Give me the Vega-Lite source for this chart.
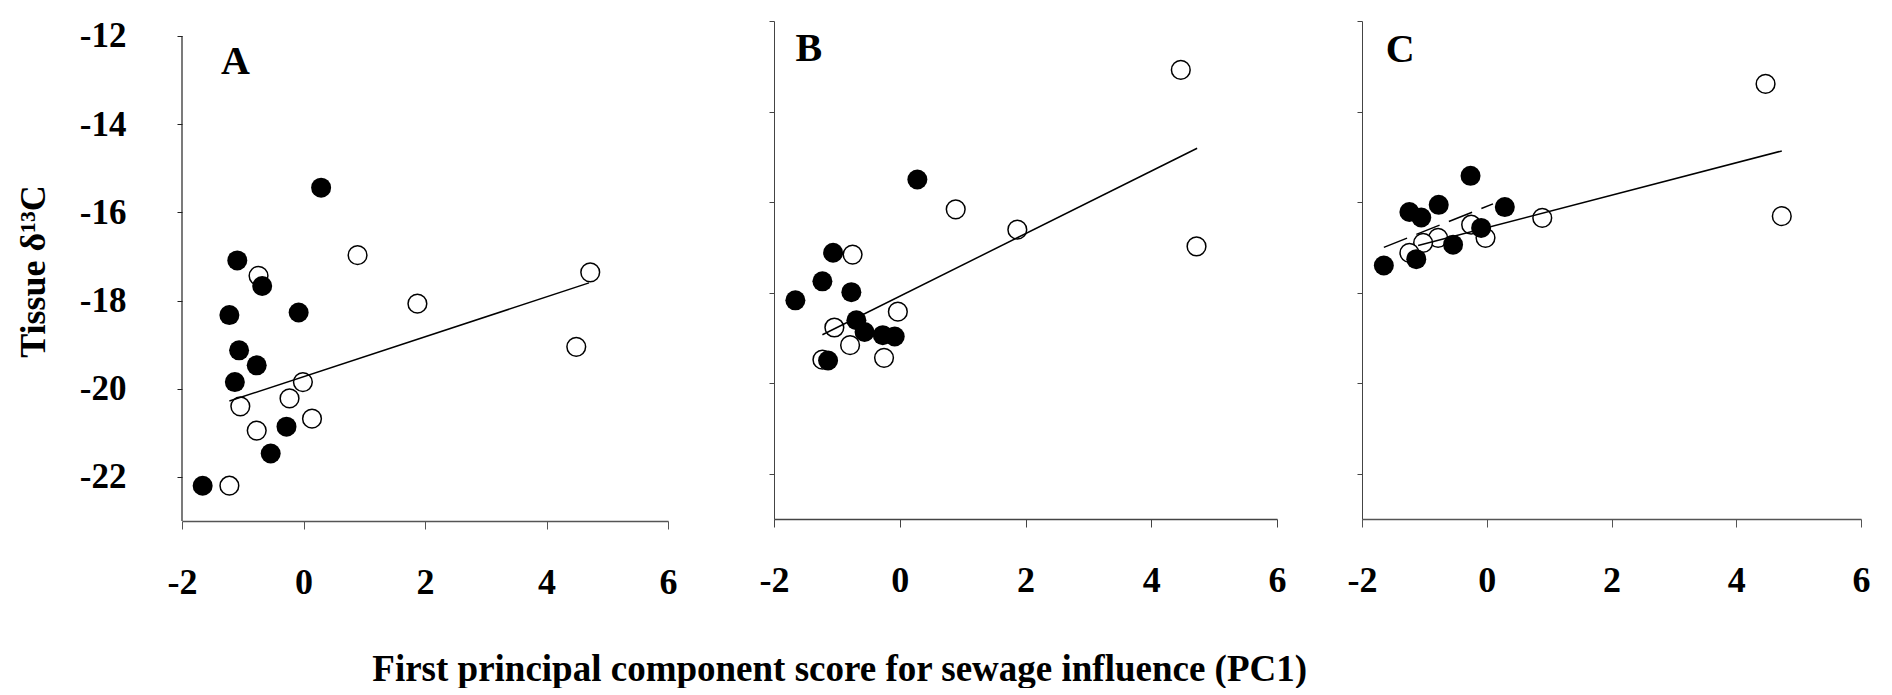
{
  "$schema": "https://vega.github.io/schema/vega-lite/v6.json",
  "background": "white",
  "padding": {"left": 15, "top": 18, "right": 5, "bottom": 0},
  "config": {
    "font": "Liberation Serif",
    "view": {"stroke": null},
    "axis": {
      "grid": false,
      "labelFont": "Liberation Serif",
      "labelFontWeight": "bold",
      "labelColor": "black",
      "labelFontSize": 35,
      "labelExpr": "replace(datum.label, '−', '-')",
      "titleFont": "Liberation Serif",
      "titleFontWeight": "bold",
      "titleColor": "black"
    }
  },
  "datasets": {
    "points": [
      {"panel": "A", "type": "filled", "x": 0.29, "y": -15.44},
      {"panel": "A", "type": "filled", "x": -1.09, "y": -17.09},
      {"panel": "A", "type": "filled", "x": -0.68, "y": -17.67},
      {"panel": "A", "type": "filled", "x": -1.22, "y": -18.33},
      {"panel": "A", "type": "filled", "x": -0.08, "y": -18.27},
      {"panel": "A", "type": "filled", "x": -1.06, "y": -19.13},
      {"panel": "A", "type": "filled", "x": -0.77, "y": -19.47},
      {"panel": "A", "type": "filled", "x": -1.13, "y": -19.85},
      {"panel": "A", "type": "filled", "x": -0.28, "y": -20.86},
      {"panel": "A", "type": "filled", "x": -0.54, "y": -21.47},
      {"panel": "A", "type": "filled", "x": -1.66, "y": -22.2},
      {"panel": "A", "type": "open", "x": 0.89, "y": -16.97},
      {"panel": "A", "type": "open", "x": -0.74, "y": -17.44},
      {"panel": "A", "type": "open", "x": 4.72, "y": -17.36},
      {"panel": "A", "type": "open", "x": 1.875, "y": -18.07},
      {"panel": "A", "type": "open", "x": 4.49, "y": -19.05},
      {"panel": "A", "type": "open", "x": -0.01, "y": -19.85},
      {"panel": "A", "type": "open", "x": -0.23, "y": -20.22},
      {"panel": "A", "type": "open", "x": -1.04, "y": -20.4},
      {"panel": "A", "type": "open", "x": 0.14, "y": -20.68},
      {"panel": "A", "type": "open", "x": -0.77, "y": -20.95},
      {"panel": "A", "type": "open", "x": -1.22, "y": -22.2},
      {"panel": "B", "type": "filled", "x": 0.28, "y": -15.5},
      {"panel": "B", "type": "filled", "x": -1.06, "y": -17.12},
      {"panel": "B", "type": "filled", "x": -1.23, "y": -17.75},
      {"panel": "B", "type": "filled", "x": -0.77, "y": -17.99},
      {"panel": "B", "type": "filled", "x": -1.66, "y": -18.17},
      {"panel": "B", "type": "filled", "x": -0.69, "y": -18.61},
      {"panel": "B", "type": "filled", "x": -0.56, "y": -18.87},
      {"panel": "B", "type": "filled", "x": -0.27, "y": -18.94},
      {"panel": "B", "type": "filled", "x": -0.08, "y": -18.97},
      {"panel": "B", "type": "filled", "x": -1.14, "y": -19.5},
      {"panel": "B", "type": "open", "x": 4.47, "y": -13.08},
      {"panel": "B", "type": "open", "x": 0.89, "y": -16.16},
      {"panel": "B", "type": "open", "x": 1.87, "y": -16.61},
      {"panel": "B", "type": "open", "x": 4.72, "y": -16.98},
      {"panel": "B", "type": "open", "x": -0.75, "y": -17.16},
      {"panel": "B", "type": "open", "x": -0.03, "y": -18.42},
      {"panel": "B", "type": "open", "x": -1.04, "y": -18.77},
      {"panel": "B", "type": "open", "x": -0.79, "y": -19.16},
      {"panel": "B", "type": "open", "x": -1.23, "y": -19.48},
      {"panel": "B", "type": "open", "x": -0.25, "y": -19.44},
      {"panel": "C", "type": "filled", "x": -0.26, "y": -15.42},
      {"panel": "C", "type": "filled", "x": -0.77, "y": -16.06},
      {"panel": "C", "type": "filled", "x": 0.29, "y": -16.11},
      {"panel": "C", "type": "filled", "x": -1.24, "y": -16.22},
      {"panel": "C", "type": "filled", "x": -1.05, "y": -16.34},
      {"panel": "C", "type": "filled", "x": -0.09, "y": -16.57},
      {"panel": "C", "type": "filled", "x": -0.54, "y": -16.94},
      {"panel": "C", "type": "filled", "x": -1.13, "y": -17.26},
      {"panel": "C", "type": "filled", "x": -1.65, "y": -17.4},
      {"panel": "C", "type": "open", "x": 4.47, "y": -13.39},
      {"panel": "C", "type": "open", "x": 4.73, "y": -16.31},
      {"panel": "C", "type": "open", "x": 0.89, "y": -16.35},
      {"panel": "C", "type": "open", "x": -0.25, "y": -16.5},
      {"panel": "C", "type": "open", "x": -0.02, "y": -16.79},
      {"panel": "C", "type": "open", "x": -0.78, "y": -16.79},
      {"panel": "C", "type": "open", "x": -1.02, "y": -16.9},
      {"panel": "C", "type": "open", "x": -1.24, "y": -17.12}
    ],
    "lines": [
      {"panel": "A", "fit": "solid", "x": -1.22, "y": -20.28},
      {"panel": "A", "fit": "solid", "x": 4.7, "y": -17.6},
      {"panel": "B", "fit": "solid", "x": -1.23, "y": -18.93},
      {"panel": "B", "fit": "solid", "x": 4.73, "y": -14.81},
      {"panel": "C", "fit": "solid", "x": -1.1, "y": -16.96},
      {"panel": "C", "fit": "solid", "x": 4.73, "y": -14.87},
      {"panel": "C", "fit": "dashed", "x": -1.65, "y": -17.0},
      {"panel": "C", "fit": "dashed", "x": 0.1, "y": -16.04}
    ],
    "letters": [
      {"panel": "A", "label": "A", "x": -1.36, "y": -12.87},
      {"panel": "B", "label": "B", "x": -1.66, "y": -12.88},
      {"panel": "C", "label": "C", "x": -1.62, "y": -12.9}
    ],
    "frame": [
      {"x": -2, "y": -23, "y2": -12}
    ]
  },
  "title": {
    "text": "First principal component score for sewage influence (PC1)",
    "orient": "bottom",
    "anchor": "middle",
    "font": "Liberation Serif",
    "fontSize": 37,
    "fontWeight": "bold",
    "color": "black",
    "offset": 52,
    "dx": -103
  },
  "spacing": 82,
  "hconcat": [
    {
      "width": 486,
      "height": 500,
      "encoding": {
        "x": {"field": "x", "type": "quantitative", "scale": {"domain": [-2, 6], "nice": false, "zero": false},
              "axis": {"values": [-2, 0, 2, 4, 6], "title": null, "tickSize": 8, "labelPadding": 36, "labelFontSize": 36, "labelFlush": false, "domainColor": "#555", "tickColor": "#555", "domainWidth": 1.5}},
        "y": {"field": "y", "type": "quantitative", "scale": {"domain": [-23, -11.66], "nice": false, "zero": false},
              "axis": {"values": [-22, -20, -18, -16, -14, -12], "title": "Tissue δ¹³C", "titleFontSize": 36, "titlePadding": 27, "tickSize": 5, "labelPadding": 51, "labelFlush": false, "domain": false, "tickColor": "#222"}}
      },
      "layer": [
        {"data": {"name": "frame"}, "mark": {"type": "rule", "color": "#222", "strokeWidth": 1.2},
         "encoding": {"y2": {"field": "y2"}}},
        {"data": {"name": "points"}, "transform": [{"filter": "datum.panel === 'A' && datum.type === 'open'"}],
         "mark": {"type": "point", "shape": "circle", "filled": true, "fill": "white", "stroke": "black", "strokeWidth": 1.5, "size": 350, "opacity": 1}},
        {"data": {"name": "points"}, "transform": [{"filter": "datum.panel === 'A' && datum.type === 'filled'"}],
         "mark": {"type": "circle", "color": "black", "size": 400, "opacity": 1}},
        {"data": {"name": "lines"}, "transform": [{"filter": "datum.panel === 'A' && datum.fit === 'solid'"}],
         "mark": {"type": "line", "color": "black", "strokeWidth": 1.5}},
        {"data": {"name": "letters"}, "transform": [{"filter": "datum.panel === 'A'"}],
         "mark": {"type": "text", "align": "left", "baseline": "alphabetic", "font": "Liberation Serif", "fontSize": 40, "fontWeight": "bold", "color": "black"},
         "encoding": {"text": {"field": "label"}}}
      ]
    },
    {
      "spacing": 61,
      "hconcat": [
        {
          "width": 503,
          "height": 498,
          "encoding": {
            "x": {"field": "x", "type": "quantitative", "scale": {"domain": [-2, 6], "nice": false, "zero": false},
                  "axis": {"values": [-2, 0, 2, 4, 6], "title": null, "tickSize": 8, "labelPadding": 36, "labelFontSize": 36, "labelFlush": false, "domainColor": "#444", "tickColor": "#444", "domainWidth": 1.5}},
            "y": {"field": "y", "type": "quantitative", "scale": {"domain": [-23, -12], "nice": false, "zero": false},
                  "axis": {"values": [-22, -20, -18, -16, -14, -12], "title": null, "labels": false, "tickSize": 5, "domainColor": "#444", "tickColor": "#444"}}
          },
          "layer": [
            {"data": {"name": "points"}, "transform": [{"filter": "datum.panel === 'B' && datum.type === 'open'"}],
             "mark": {"type": "point", "shape": "circle", "filled": true, "fill": "white", "stroke": "black", "strokeWidth": 1.5, "size": 350, "opacity": 1}},
            {"data": {"name": "points"}, "transform": [{"filter": "datum.panel === 'B' && datum.type === 'filled'"}],
             "mark": {"type": "circle", "color": "black", "size": 400, "opacity": 1}},
            {"data": {"name": "lines"}, "transform": [{"filter": "datum.panel === 'B' && datum.fit === 'solid'"}],
             "mark": {"type": "line", "color": "black", "strokeWidth": 1.5}},
            {"data": {"name": "letters"}, "transform": [{"filter": "datum.panel === 'B'"}],
             "mark": {"type": "text", "align": "left", "baseline": "alphabetic", "font": "Liberation Serif", "fontSize": 40, "fontWeight": "bold", "color": "black"},
             "encoding": {"text": {"field": "label"}}}
          ]
        },
        {
          "width": 499,
          "height": 498,
          "encoding": {
            "x": {"field": "x", "type": "quantitative", "scale": {"domain": [-2, 6], "nice": false, "zero": false},
                  "axis": {"values": [-2, 0, 2, 4, 6], "title": null, "tickSize": 8, "labelPadding": 36, "labelFontSize": 36, "labelFlush": false, "domainColor": "#555", "tickColor": "#555", "domainWidth": 1.5}},
            "y": {"field": "y", "type": "quantitative", "scale": {"domain": [-23, -12], "nice": false, "zero": false},
                  "axis": {"values": [-22, -20, -18, -16, -14, -12], "title": null, "labels": false, "tickSize": 5, "domainColor": "#444", "tickColor": "#444"}}
          },
          "layer": [
            {"data": {"name": "points"}, "transform": [{"filter": "datum.panel === 'C' && datum.type === 'open'"}],
             "mark": {"type": "point", "shape": "circle", "filled": true, "fill": "white", "stroke": "black", "strokeWidth": 1.5, "size": 350, "opacity": 1}},
            {"data": {"name": "points"}, "transform": [{"filter": "datum.panel === 'C' && datum.type === 'filled'"}],
             "mark": {"type": "circle", "color": "black", "size": 400, "opacity": 1}},
            {"data": {"name": "lines"}, "transform": [{"filter": "datum.panel === 'C' && datum.fit === 'solid'"}],
             "mark": {"type": "line", "color": "black", "strokeWidth": 1.5}},
            {"data": {"name": "lines"}, "transform": [{"filter": "datum.panel === 'C' && datum.fit === 'dashed'"}],
             "mark": {"type": "line", "color": "black", "strokeWidth": 1.5, "strokeDash": [25, 10]}},
            {"data": {"name": "letters"}, "transform": [{"filter": "datum.panel === 'C'"}],
             "mark": {"type": "text", "align": "left", "baseline": "alphabetic", "font": "Liberation Serif", "fontSize": 40, "fontWeight": "bold", "color": "black"},
             "encoding": {"text": {"field": "label"}}}
          ]
        }
      ]
    }
  ]
}
